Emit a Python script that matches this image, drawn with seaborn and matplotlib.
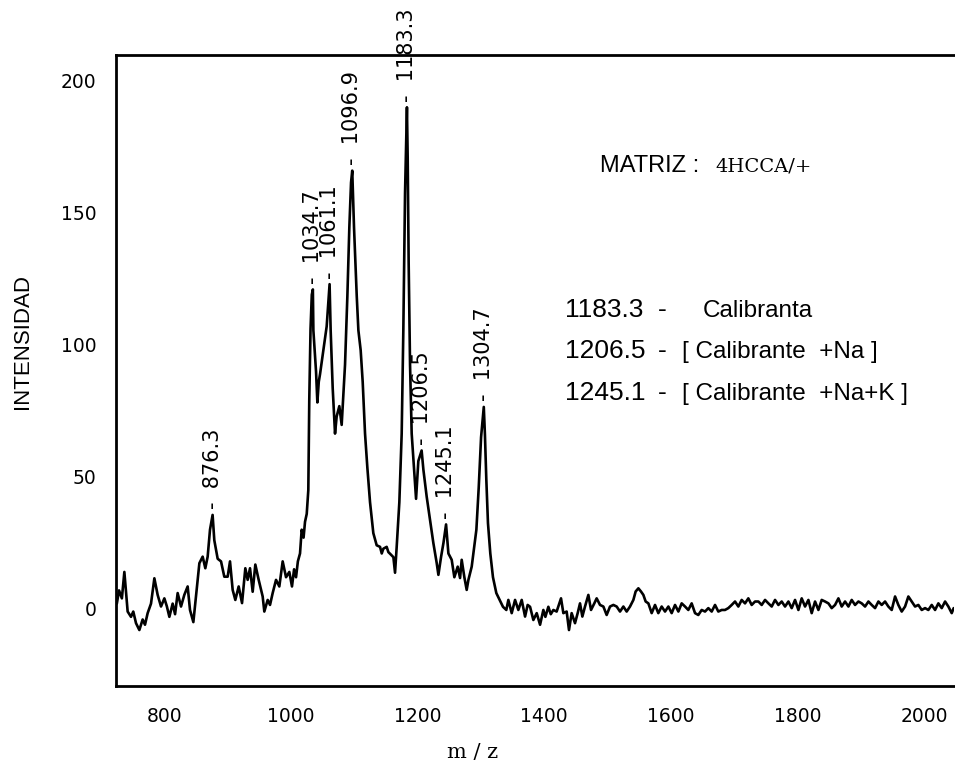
import matplotlib
matplotlib.use("Agg")
import matplotlib.pyplot as plt
import seaborn as sns
import pandas as pd

# Spectrum trace, m/z vs intensity, read segment by segment
mz_bajo = [725.0, 728.5, 733.0, 736.9, 742.1, 747.4, 751.0, 755.3, 760.6, 765.8,
           769.5, 773.7, 779.0, 784.3, 789.5, 794.8, 800.1, 804.0, 808.0, 813.2,
           817.0, 821.1, 826.4, 831.6, 836.9, 840.6, 845.9, 850.1, 855.4, 860.6,
           864.8, 868.5, 872.2, 876.3, 879.0, 884.3, 889.6, 894.8, 900.1, 903.8,
           908.0, 912.2, 917.5, 922.8, 928.0, 931.7, 935.4, 939.6, 943.8, 949.1,
           955.4, 958.0, 963.3, 967.0, 971.2, 976.5, 981.7, 987.0, 992.3, 997.5,
           1001.7, 1005.0, 1008.1, 1011.0, 1014.4, 1017.0, 1020.0, 1022.3, 1025.0,
           1027.5, 1029.0, 1031.0, 1033.0]
int_bajo = [2.0, 7.0, 4.0, 14.0, -1.0, -3.0, -1.0, -5.4, -8.0, -4.0,
            -6.0, -1.6, 2.0, 11.6, 5.3, 0.9, 4.0, 1.0, -3.0, 2.0,
            -2.0, 6.0, 0.9, 5.3, 8.5, -0.4, -5.0, 4.7, 17.3, 19.8,
            15.4, 19.8, 30.0, 35.6, 26.0, 19.0, 18.0, 12.2, 12.2, 18.0,
            7.2, 3.4, 8.5, 2.2, 15.4, 11.0, 15.4, 6.5, 16.8, 11.0,
            4.7, -1.0, 3.4, 1.5, 6.0, 11.0, 8.5, 18.0, 12.0, 14.0,
            8.5, 15.0, 12.0, 18.0, 21.0, 30.0, 27.0, 33.0, 36.0,
            45.0, 79.0, 106.0, 119.0]

mz_medio = [1034.7, 1035.5, 1039.7, 1041.8, 1044.0, 1046.0, 1051.3, 1056.5, 1059.0,
            1061.1, 1062.8, 1066.0, 1069.7, 1072.3, 1076.5, 1080.2, 1085.5, 1089.2,
            1092.3, 1095.0, 1096.9, 1099.7, 1104.0, 1106.6, 1110.2, 1113.4, 1117.1,
            1120.8, 1125.0, 1130.2, 1135.5, 1140.8, 1143.5, 1146.0, 1151.3, 1154.0,
            1156.6, 1161.9, 1164.5, 1167.1, 1171.3, 1175.0, 1177.6, 1180.3, 1183.3,
            1184.5, 1186.0, 1188.2, 1190.8, 1194.5, 1197.7, 1201.3, 1206.5]
int_medio = [121.0, 105.5, 89.9, 78.2, 86.0, 88.9, 98.0, 107.0, 116.0,
             123.0, 105.5, 83.7, 66.4, 72.9, 76.8, 69.7, 92.5, 118.5,
             144.5, 161.5, 166.0, 144.5, 118.5, 105.5, 98.0, 86.0, 66.4,
             53.4, 40.4, 28.7, 24.1, 23.5, 21.0, 22.8, 23.5, 21.5,
             20.9, 19.6, 13.7, 23.5, 40.4, 66.4, 105.5, 157.5, 190.0,
             170.6, 131.5, 92.5, 66.4, 53.4, 41.7, 56.0, 60.0]

mz_alto = [1209.3, 1214.5, 1219.8, 1225.0, 1230.3, 1233.0, 1237.2, 1241.0, 1245.1,
           1248.8, 1254.0, 1258.2, 1263.5, 1267.2, 1269.8, 1274.0, 1277.7, 1280.4,
           1285.6, 1293.0, 1296.7, 1300.4, 1304.7, 1306.5, 1308.7, 1311.3, 1315.0,
           1319.2, 1324.5, 1329.7, 1335.0, 1340.3, 1343.5, 1348.8, 1354.1, 1359.3,
           1364.6, 1369.9, 1374.0, 1377.8, 1383.0, 1388.3, 1393.6, 1398.8, 1402.0,
           1406.7, 1410.5, 1414.6]
int_alto = [52.7, 42.5, 33.7, 25.0, 17.4, 12.9, 19.7, 25.0, 32.0,
            21.0, 18.6, 12.0, 16.0, 11.7, 18.6, 12.0, 7.2, 11.0,
            16.0, 30.0, 46.0, 65.0, 76.5, 66.0, 49.0, 32.5, 21.0,
            12.0, 6.0, 3.4, 0.8, -0.4, 3.4, -1.6, 3.4, -0.4,
            3.4, -2.9, 1.5, 0.8, -4.2, -1.6, -6.0, -0.4, -3.0,
            0.8, -2.0, -0.4]

mz_fondo = [1419.8, 1426.7, 1430.4, 1435.6, 1439.3, 1443.5, 1448.8, 1453.0, 1456.7,
            1460.4, 1464.6, 1469.9, 1474.1, 1479.3, 1483.0, 1488.3, 1493.6, 1498.8,
            1504.1, 1509.4, 1514.6, 1519.9, 1525.2, 1530.4, 1535.7, 1541.0, 1544.6,
            1548.9, 1553.0, 1556.8, 1560.4, 1564.7, 1569.9, 1575.2, 1580.4, 1585.7,
            1591.0, 1596.3, 1601.5, 1606.8, 1612.1, 1617.3, 1622.6, 1627.8, 1633.1,
            1638.4, 1643.6, 1648.9, 1654.2, 1659.4, 1664.7, 1670.0, 1675.2, 1680.5,
            1685.8, 1691.0, 1696.3, 1701.6, 1706.8, 1712.1, 1717.4, 1722.6, 1727.9,
            1733.2, 1738.5, 1743.7, 1749.0, 1754.3, 1759.5, 1764.8, 1770.1, 1775.3,
            1780.6, 1785.9, 1791.1, 1796.4, 1801.7, 1806.9, 1812.2, 1817.5, 1822.7,
            1828.0, 1833.3, 1838.5, 1843.8, 1849.1, 1854.3, 1859.6, 1864.9, 1870.1,
            1875.4, 1880.7, 1885.9, 1891.2, 1896.5, 1901.7, 1907.0, 1912.3, 1917.5,
            1922.8, 1928.1, 1933.3, 1938.6, 1943.8, 1949.1, 1954.4, 1959.6, 1964.9,
            1970.2, 1975.4, 1980.7, 1986.0, 1991.2, 1996.5, 2001.8, 2007.0, 2012.3,
            2017.6, 2022.8, 2028.1, 2033.4, 2038.6, 2043.9, 2047.0]
int_fondo = [-1.0, 4.0, -1.6, -1.0, -8.0, -1.6, -5.4, -1.6, 2.1,
             -2.9, 0.9, 5.3, -0.4, 2.1, 4.0, 1.5, 0.9, -2.3,
             0.9, 1.5, 0.9, -1.0, 0.9, -1.0, 0.9, 3.4, 6.6,
             7.8, 6.6, 5.3, 2.8, 2.1, -1.6, 1.5, -1.6, 0.9,
             -1.0, 0.9, -1.6, 1.5, -1.0, 2.1, 0.9, -0.4, 2.1,
             -1.6, -2.3, -0.4, -1.0, 0.3, -1.0, 1.5, -1.0, -0.4,
             -0.4, 0.3, 1.5, 2.8, 0.9, 3.4, 2.1, 4.0, 1.5,
             2.8, 2.8, 1.5, 3.4, 2.1, 0.9, 3.4, 1.5, 2.8,
             0.9, 2.8, 0.3, 3.4, -0.4, 4.0, 0.9, 3.4, -1.6,
             2.8, -0.4, 3.4, 2.8, 2.1, 0.3, 1.5, 4.0, 0.9,
             2.8, 0.9, 3.4, 1.5, 2.8, 2.1, 0.9, 2.8, 1.5,
             0.3, 2.8, 1.5, 2.8, 0.9, -0.4, 4.7, 1.5, -1.0,
             0.9, 4.7, 2.8, 0.9, 1.5, -0.4, 0.3, -0.4, 1.5,
             -0.4, 2.1, 0.3, 2.8, 0.9, -1.6, 0.3]

# Labelled peaks and peak assignments
picos_mz = [876.3, 1034.7, 1061.1, 1096.9, 1183.3, 1206.5, 1245.1, 1304.7]
asig_mz = ["1183.3", "1206.5", "1245.1"]
asig_especie = ["Calibranta", "[ Calibrante  +Na ]", "[ Calibrante  +Na+K ]"]
matriz_txt = "MATRIZ :"
matriz_nombre = "4HCCA/+"

x_ticks = [800, 1000, 1200, 1400, 1600, 1800, 2000]
y_ticks = [0, 50, 100, 150, 200]

espectro = pd.DataFrame({
    "mz": mz_bajo + mz_medio + mz_alto + mz_fondo,
    "intensidad": int_bajo + int_medio + int_alto + int_fondo,
})

sns.set_theme(style="white")
plt.rcParams["font.family"] = ["DejaVu Sans"]

W, H = 955, 769
fig = plt.figure(figsize=(W / 100, H / 100), dpi=100)
fig.patch.set_facecolor("white")
AX_L, AX_R, AX_T, AX_B = 116, 954, 55, 686
ax = fig.add_axes([AX_L / W, 1 - AX_B / H, (AX_R - AX_L) / W, (AX_B - AX_T) / H])
ax.set_facecolor("white")


def ax_frac(px, py):
    """Pixel position on the canvas -> axes fraction."""
    return (px - AX_L) / (AX_R - AX_L), (AX_B - py) / (AX_B - AX_T)


sns.lineplot(data=espectro, x="mz", y="intensidad", sort=False, estimator=None,
             color="black", linewidth=1.9, ax=ax, zorder=3)

ax.set_xlim(723.7, 2047.5)
ax.set_ylim(-29.2, 209.8)
ax.set_xticks(x_ticks)
ax.set_yticks(y_ticks)
ax.tick_params(axis="both", direction="inout", length=16, width=1.6,
               colors="black", labelsize=13.5)
ax.tick_params(axis="x", pad=7)
ax.tick_params(axis="y", pad=6)
for side in ("left", "bottom", "top"):
    ax.spines[side].set_visible(True)
    ax.spines[side].set_color("black")
    ax.spines[side].set_linewidth(2.0)
ax.spines["right"].set_visible(False)

ax.set_xlabel("m / z", family="DejaVu Serif", fontsize=15, color="black")
ax.xaxis.set_label_coords(*ax_frac(473, 752))
ax.xaxis.label.set_va("center")
ax.set_ylabel("INTENSIDAD", family="Liberation Sans", fontsize=16, color="black")
ax.yaxis.set_label_coords(*ax_frac(23, 342))
ax.yaxis.label.set_va("center")

# Peak labels, written vertically above each maximum
serie = espectro.set_index("mz")["intensidad"]
for p in picos_mz:
    ax.annotate(f"-  {p:.1f}", xy=(p, serie.loc[p]), xytext=(0, 4),
                textcoords="offset points", rotation=90, ha="center", va="bottom",
                fontsize=15, color="black", annotation_clip=False, zorder=2.7)

# Matrix used
ax.text(*ax_frac(600, 172), matriz_txt, transform=ax.transAxes,
        family="Liberation Sans", fontsize=17, va="baseline", ha="left", color="black")
ax.text(*ax_frac(715, 172), matriz_nombre, transform=ax.transAxes,
        family="DejaVu Serif", fontsize=14, va="baseline", ha="left", color="black")

# Peak assignments: value, dash, species
for valor, especie, base in zip(asig_mz, asig_especie, [317, 358, 400]):
    x0 = 703 if not especie.startswith("[") else 682
    ax.text(*ax_frac(565, base), valor, transform=ax.transAxes,
            family="Liberation Sans", fontsize=19, va="baseline", ha="left",
            color="black")
    ax.text(*ax_frac(658, base), "-", transform=ax.transAxes,
            family="Liberation Sans", fontsize=19, va="baseline", ha="left",
            color="black")
    ax.text(*ax_frac(x0, base), especie, transform=ax.transAxes,
            family="Liberation Sans", fontsize=17.5, va="baseline", ha="left",
            color="black")

fig.savefig("out.png", dpi=100, facecolor="white")
